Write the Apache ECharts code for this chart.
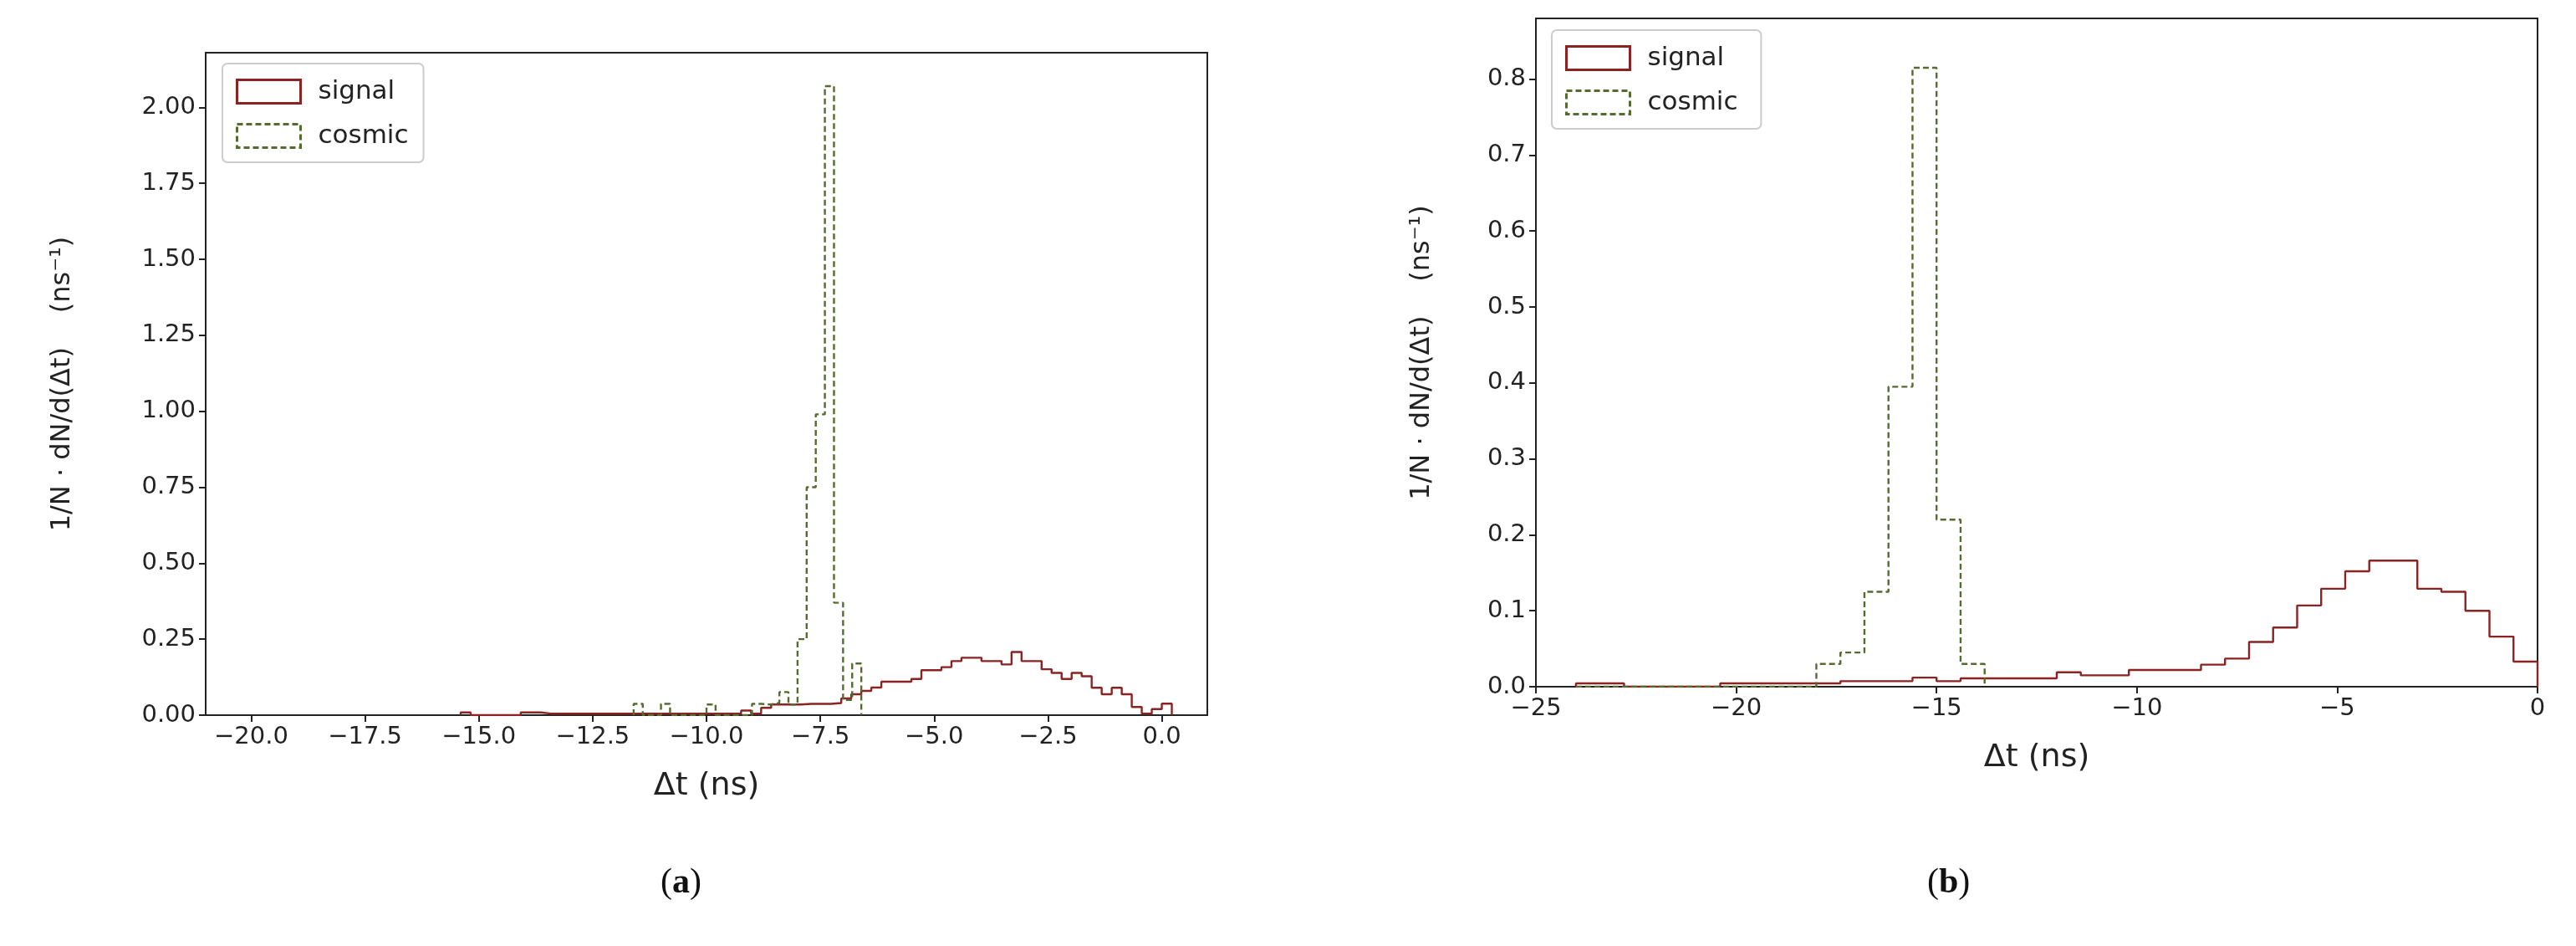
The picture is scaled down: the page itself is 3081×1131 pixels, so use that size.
<!DOCTYPE html>
<html>
<head>
<meta charset="utf-8">
<title>Δt histograms</title>
<script src="https://cdn.jsdelivr.net/npm/echarts@6/dist/echarts.min.js"></script>
<style>html,body{margin:0;background:#fff}</style>
</head>
<body>
<div id="main" style="width:3081px;height:1131px;"></div>
<script>
// (a) signal: 70 bins of 0.22 ns, listed from left edge -15.4 to 0
var aSignalStart = -15.4, aSignalWidth = 0.22;
var aSignal = [0.009,0,0,0,0,0,0.009,0.009,
  0.005,0.005,0.005,0.005,0.005,0.005,0.005,0.005,0.005,0.005,
  0.005,0.005,0.005,0.005,0.005,0.005,0.005,0.005,0.005,0.005,
  0.015,0.005,0.024,0.035,0.035,0.035,0.037,0.037,0.037,0.040,0.055,
  0.069,0.080,0.091,0.110,0.110,0.110,0.119,0.148,0.148,0.158,0.178,0.189,0.189,
  0.178,0.178,0.167,0.208,0.178,0.178,0.151,0.139,0.119,0.139,0.128,0.090,0.069,0.090,
  0.069,0.027,0.005,0.020,0.038];
// (a) cosmic: 0.2 ns bins from -11.6
var aCosmicStart = -11.6, aCosmicWidth = 0.2;
var aCosmic = [0.037,0,0,0.037,0,0,0,0,0.035,0,0,0,0,0.037,0.035,0.04,0.076,0.035,
  0.25,0.75,0.99,2.07,0.37,0.05,0.17];
// (b) signal and cosmic: 0.6 ns bins from -24
var bStart = -24, bWidth = 0.6;
var bSignal = [0.0044,0.0044,0,0,0,0,0.0044,0.0044,0.0044,0.0044,0.0044,
  0.0073,0.0073,0.0073,0.012,0.0073,0.011,0.011,0.011,0.011,0.019,0.015,0.015,
  0.022,0.022,0.022,0.029,0.037,0.059,0.078,0.107,0.129,0.152,0.166,0.166,
  0.129,0.125,0.10,0.066,0.033];
var bCosmic = [0,0,0,0,0,0,0,0,0,0,0.03,0.045,0.125,0.395,0.815,0.22,0.03];

var aXTicks = [-20,-17.5,-15,-12.5,-10,-7.5,-5,-2.5,0];
var aYTicks = [0,0.25,0.5,0.75,1,1.25,1.5,1.75,2];
var bXTicks = [-25,-20,-15,-10,-5,0];
var bYTicks = [0,0.1,0.2,0.3,0.4,0.5,0.6,0.7,0.8];

var red = '#8b2323', olive = '#556b2f';

// turn bins into a step outline like matplotlib histtype='step'
function steps(start, w, vals) {
  var pts = [[start, 0]];
  for (var i = 0; i < vals.length; i++) {
    var l = start + i * w, r = l + w;
    pts.push([l, vals[i]]);
    pts.push([r, vals[i]]);
  }
  pts.push([start + vals.length * w, 0]);
  return pts;
}
function fmt(v, d) { return (v < 0 ? '\u2212' : '') + Math.abs(v).toFixed(d); }

var tickFont = {fontFamily: 'DejaVu Sans', fontSize: 29, color: '#222'};
function xAxis(idx, min, max, ticks, dec) {
  return {type: 'value', gridIndex: idx, min: min, max: max,
    name: 'Δt (ns)', nameLocation: 'middle', nameGap: 66,
    nameTextStyle: {fontFamily: 'DejaVu Sans', fontSize: 38, color: '#222'},
    splitLine: {show: false},
    axisLine: {show: true, onZero: false, lineStyle: {color: '#222', width: 2}},
    axisTick: {show: true, length: 8, lineStyle: {color: '#222', width: 2}, customValues: ticks},
    axisLabel: Object.assign({margin: 12, customValues: ticks,
      formatter: function (v) { return fmt(v, dec); }}, tickFont)};
}
function yAxis(idx, max, ticks, dec, gap) {
  return {type: 'value', gridIndex: idx, min: 0, max: max,
    name: '1/N · dN/d(Δt)    (ns\u207B\u00B9)', nameLocation: 'middle', nameRotate: 90, nameGap: gap,
    nameTextStyle: {fontFamily: 'DejaVu Sans', fontSize: 32, color: '#222'},
    splitLine: {show: false},
    axisLine: {show: true, onZero: false, lineStyle: {color: '#222', width: 2}},
    axisTick: {show: true, length: 8, lineStyle: {color: '#222', width: 2}, customValues: ticks},
    axisLabel: Object.assign({margin: 12, customValues: ticks,
      formatter: function (v) { return v.toFixed(dec); }}, tickFont)};
}
function hist(name, idx, pts, color, dashed) {
  return {name: name, type: 'line', xAxisIndex: idx, yAxisIndex: idx, data: pts,
    showSymbol: false, symbol: 'none', animation: false, z: dashed ? 3 : 2,
    lineStyle: {color: color, width: 2.4, type: dashed ? [7, 4] : 'solid'},
    itemStyle: {color: color}};
}
function legend(idx, left, top) {
  return {left: left, top: top, orient: 'vertical', itemWidth: 76, itemHeight: 28, itemGap: 22,
    padding: [18, 18, 16, 16], borderColor: '#ccc', borderWidth: 2, borderRadius: 6,
    backgroundColor: '#fff',
    textStyle: {fontFamily: 'DejaVu Sans', fontSize: 31, color: '#222', padding: [0, 0, 0, 16]},
    data: [
      {name: idx === 0 ? 'signal' : 'signal ', icon: 'rect',
        itemStyle: {color: 'transparent', borderColor: red, borderWidth: 3}},
      {name: idx === 0 ? 'cosmic' : 'cosmic ', icon: 'rect',
        itemStyle: {color: 'transparent', borderColor: olive, borderWidth: 3, borderType: [7, 4]}}
    ]};
}

var chart = echarts.init(document.getElementById('main'));
chart.setOption({
  animation: false,
  backgroundColor: '#fff',
  grid: [
    {left: 246, top: 63, width: 1198, height: 792, show: true, borderColor: '#222', borderWidth: 2},
    {left: 1837, top: 22, width: 1198, height: 799, show: true, borderColor: '#222', borderWidth: 2}
  ],
  legend: [legend(0, 266, 76), legend(1, 1856, 36)],
  xAxis: [xAxis(0, -21, 1, aXTicks, 1), xAxis(1, -25, 0, bXTicks, 0)],
  yAxis: [yAxis(0, 2.18, aYTicks, 2, 155), yAxis(1, 0.88, bYTicks, 1, 120)],
  series: [
    hist('signal', 0, steps(aSignalStart, aSignalWidth, aSignal), red, false),
    hist('cosmic', 0, steps(aCosmicStart, aCosmicWidth, aCosmic), olive, true),
    hist('signal ', 1, steps(bStart, bWidth, bSignal), red, false),
    hist('cosmic ', 1, steps(bStart, bWidth, bCosmic), olive, true)
  ],
  graphic: [
    {type: 'text', left: 790, top: 1035, style: {
      text: '({b|a})', fill: '#111', font: '42px "Liberation Serif"',
      rich: {b: {fontFamily: 'Liberation Serif', fontSize: 42, fontWeight: 'bold'}}}},
    {type: 'text', left: 2305, top: 1035, style: {
      text: '({b|b})', fill: '#111', font: '42px "Liberation Serif"',
      rich: {b: {fontFamily: 'Liberation Serif', fontSize: 42, fontWeight: 'bold'}}}}
  ]
});
</script>
</body>
</html>
